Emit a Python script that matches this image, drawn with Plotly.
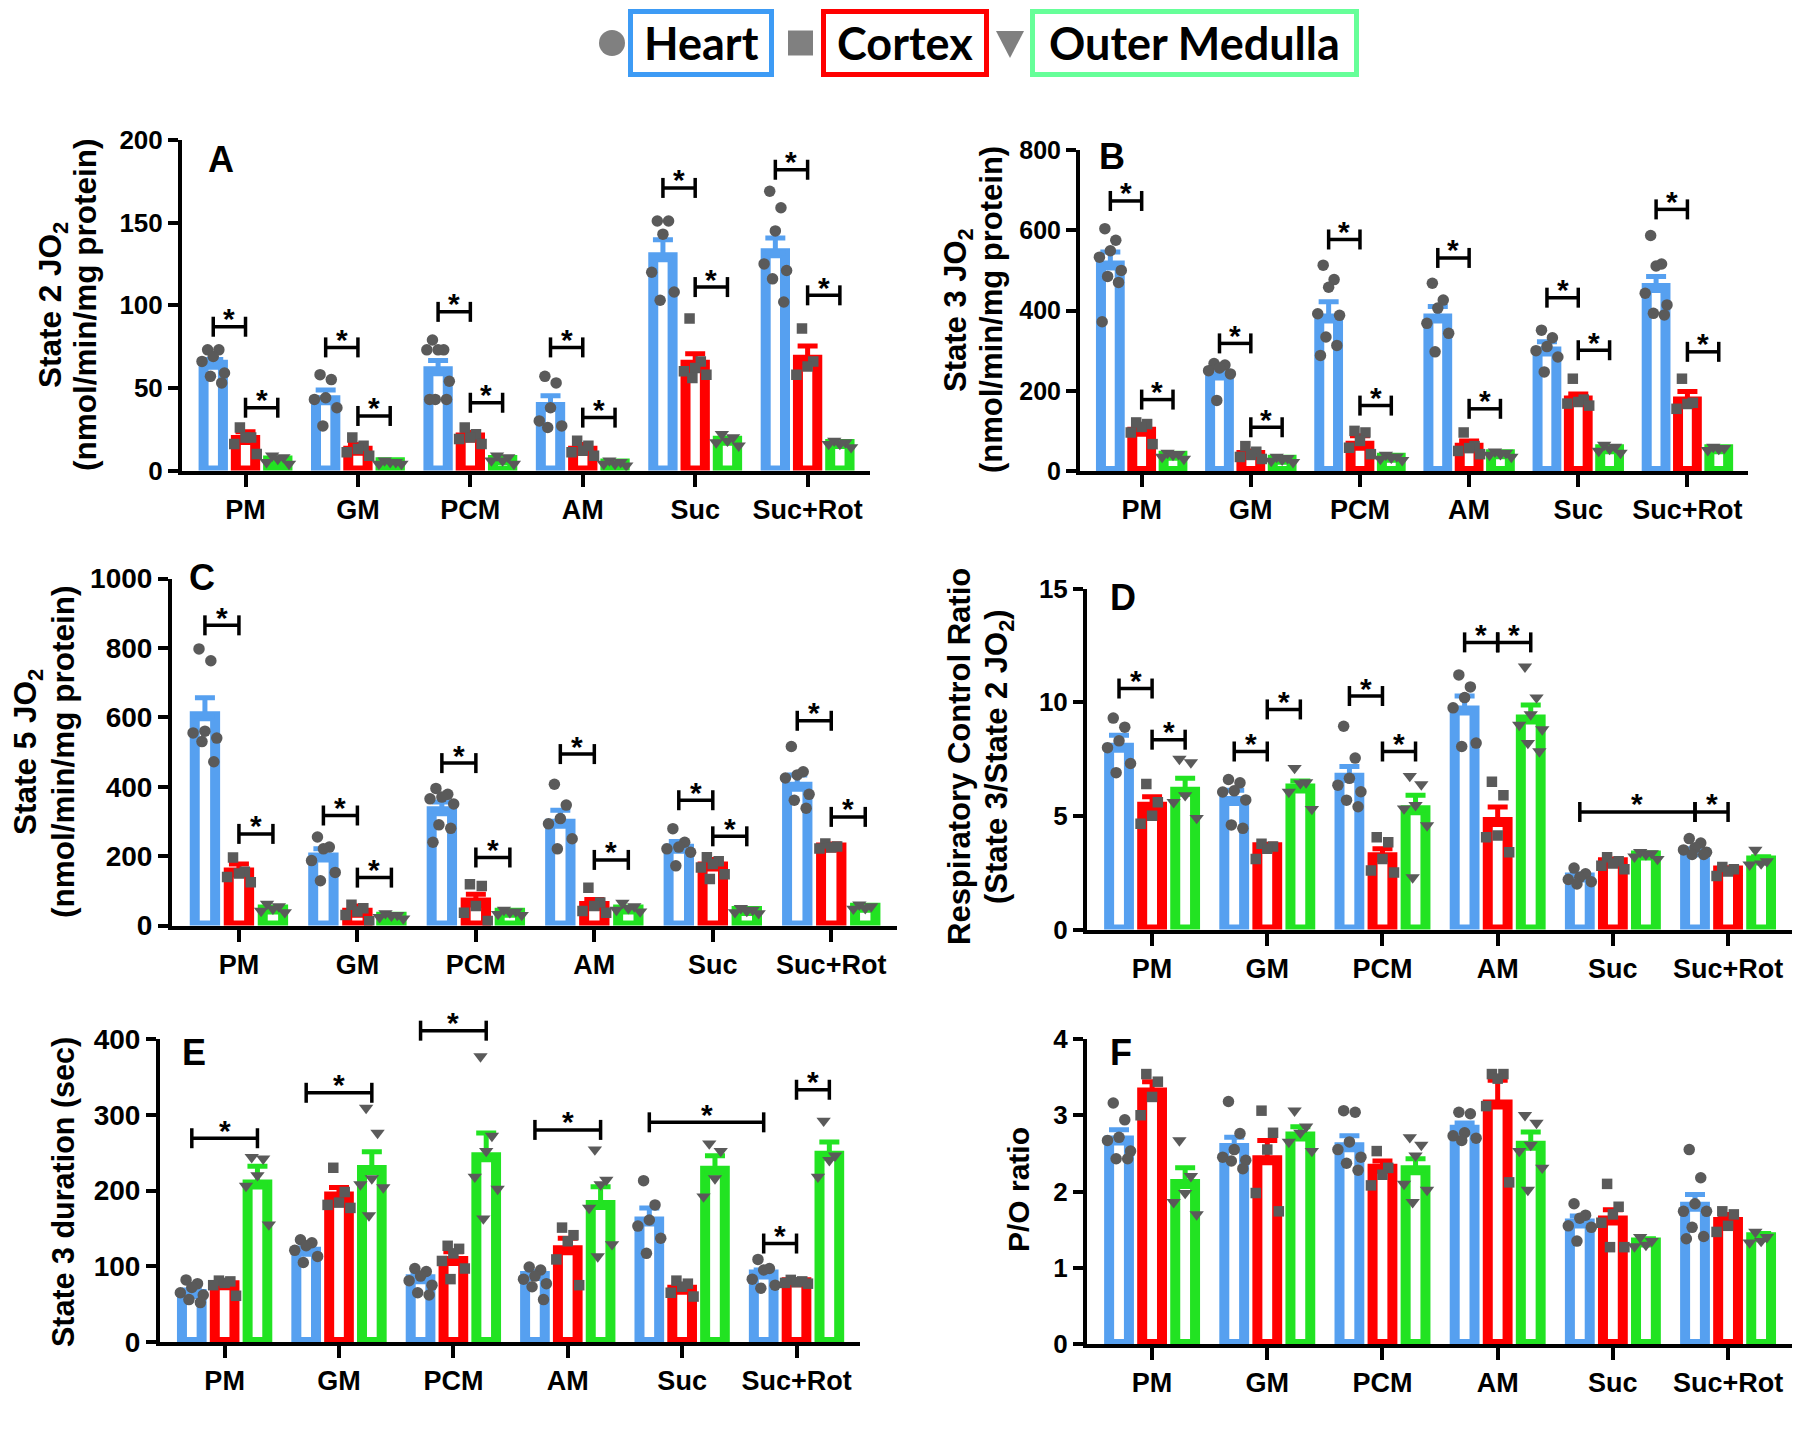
import plotly.graph_objects as go

# full picture size and the default 8px page margin around the figure
PAGE_W, PAGE_H = 1800, 1434
PAD = 8
W, H = PAGE_W - 2 * PAD, PAGE_H - 2 * PAD

categories = ["PM", "GM", "PCM", "AM", "Suc", "Suc+Rot"]
tissues = ["Heart", "Cortex", "Outer Medulla"]

# ---------------- Panel A : State 2 JO2 ----------------
A_heart_mean = [64, 42.5, 60, 38.5, 129, 131.5]
A_heart_sem = [3.2, 6.2, 6.6, 6.8, 10.7, 9.2]
A_cortex_mean = [18.5, 12, 20, 12, 64, 67]
A_cortex_sem = [4.9, 3.8, 3.0, 3.8, 6.7, 8.3]
A_om_mean = [6, 5, 6.3, 4.3, 18, 16]
A_om_sem = [1.0, 0.5, 1.0, 0.5, 1.5, 0.8]
A_heart_pts = [[73, 73, 69, 66, 59, 57, 53], [58, 55, 44, 43, 38, 27],
               [79, 73, 73, 73, 54, 43, 43, 43], [57, 53, 38, 30, 27, 26],
               [151, 151, 143, 120, 108, 103], [169, 159, 145, 125, 121, 116, 102]]
A_cortex_pts = [[26, 20, 20, 16, 10], [20, 15, 13, 11, 9], [26, 22, 20, 19, 16],
                [18, 15, 12, 11, 9], [92, 66, 62, 60, 58, 56], [86, 66, 63, 58]]
A_om_pts = [[9, 8, 7, 5, 4], [6, 5, 5, 4, 4], [9, 8, 6, 6, 4], [6, 5, 4, 4, 3],
            [22, 20, 18, 17, 15], [18, 17, 16, 16, 14]]
# (category, tissue) -> (category, tissue), height
A_brackets = [(0, 0, 0, 1, 87), (0, 1, 0, 2, 38), (1, 0, 1, 1, 74.5), (1, 1, 1, 2, 33),
              (2, 0, 2, 1, 96), (2, 1, 2, 2, 41), (3, 0, 3, 1, 74.5), (3, 1, 3, 2, 32),
              (4, 0, 4, 1, 171), (4, 1, 4, 2, 111), (5, 0, 5, 1, 182), (5, 1, 5, 2, 106)]

# ---------------- Panel B : State 3 JO2 ----------------
B_heart_mean = [512, 238, 380, 380, 298, 456]
B_heart_sem = [34, 19, 42, 30, 24, 29]
B_cortex_mean = [98, 40, 63, 58, 176, 173]
B_cortex_sem = [17, 10, 25, 17, 16, 25]
B_om_mean = [38, 28, 33, 42, 54, 54]
B_om_sem = [4, 3, 3, 3, 5, 3]
B_heart_pts = [[604, 575, 549, 533, 500, 485, 470, 372], [268, 264, 257, 250, 242, 176],
               [513, 477, 458, 392, 388, 334, 313, 288], [468, 426, 406, 368, 343, 297],
               [351, 332, 310, 300, 284, 247], [587, 516, 511, 443, 414, 393, 389]]
B_cortex_pts = [[121, 117, 110, 96, 67], [62, 48, 40, 35, 30], [100, 96, 75, 58, 42],
                [96, 62, 57, 50, 42], [230, 178, 172, 168, 163], [230, 170, 167, 155]]
B_om_pts = [[45, 42, 40, 35, 30], [35, 32, 28, 25, 22], [40, 36, 33, 30, 27],
            [48, 45, 42, 40, 35], [65, 60, 55, 50, 45], [60, 57, 55, 52]]
B_brackets = [(0, 0, 0, 1, 673), (0, 1, 0, 2, 178), (1, 0, 1, 1, 318), (1, 1, 1, 2, 109),
              (2, 0, 2, 1, 577), (2, 1, 2, 2, 163), (3, 0, 3, 1, 531), (3, 1, 3, 2, 155),
              (4, 0, 4, 1, 432), (4, 1, 4, 2, 301), (5, 0, 5, 1, 652), (5, 1, 5, 2, 297)]

# ---------------- Panel C : State 5 JO2 ----------------
C_heart_mean = [603, 196, 329, 293, 221, 400]
C_heart_sem = [53, 25, 27, 39, 21, 34]
C_cortex_mean = [153, 37, 66, 56, 170, 225]
C_cortex_sem = [24, 19, 24, 19, 20, 10]
C_om_mean = [46, 25, 37, 46, 42, 51]
C_om_sem = [5, 3, 3, 4, 3, 3]
C_heart_pts = [[797, 763, 560, 555, 540, 530, 472], [255, 226, 221, 187, 153, 129],
               [395, 378, 370, 365, 350, 290, 280, 240], [407, 347, 308, 293, 250, 221],
               [279, 240, 226, 221, 211, 172], [516, 443, 434, 425, 378, 361, 338]]
C_cortex_pts = [[196, 155, 150, 140, 125], [60, 50, 40, 30, 12], [119, 114, 56, 37, 13],
                [109, 66, 56, 42, 37], [197, 185, 177, 167, 148, 134], [236, 228, 225, 222]]
C_om_pts = [[62, 55, 48, 42, 38], [35, 30, 28, 24, 20], [45, 40, 38, 33, 30],
            [65, 55, 50, 45, 40], [50, 45, 42, 38, 35], [60, 55, 50, 48]]
C_brackets = [(0, 0, 0, 1, 865), (0, 1, 0, 2, 264), (1, 0, 1, 1, 317), (1, 1, 1, 2, 138),
              (2, 0, 2, 1, 468), (2, 1, 2, 2, 196), (3, 0, 3, 1, 494), (3, 1, 3, 2, 189),
              (4, 0, 4, 1, 361), (4, 1, 4, 2, 257), (5, 0, 5, 1, 590), (5, 1, 5, 2, 313)]

# ---------------- Panel D : Respiratory Control Ratio ----------------
D_heart_mean = [8.0, 5.65, 6.68, 9.63, 2.29, 3.4]
D_heart_sem = [0.54, 0.48, 0.49, 0.64, 0.15, 0.15]
D_cortex_mean = [5.4, 3.62, 3.18, 4.73, 2.96, 2.59]
D_cortex_sem = [0.44, 0.13, 0.37, 0.66, 0.14, 0.11]
D_om_mean = [6.06, 6.2, 5.25, 9.24, 3.25, 3.03]
D_om_sem = [0.59, 0.33, 0.65, 0.63, 0.10, 0.17]
D_heart_pts = [[9.3, 8.9, 8.3, 8.0, 7.3, 6.9], [6.6, 6.45, 6.1, 6.05, 5.7, 4.6, 4.45],
               [8.94, 7.54, 6.65, 6.35, 6.06, 5.69, 5.4], [11.2, 10.67, 10.2, 9.75, 8.2, 8.05],
               [2.7, 2.45, 2.3, 2.2, 2.1, 2.0], [4.0, 3.8, 3.6, 3.5, 3.4, 3.3, 3.3]]
D_cortex_pts = [[6.4, 5.6, 5.0, 4.65], [3.77, 3.65, 3.55, 3.1], [4.06, 3.84, 3.1, 2.59, 2.51],
                [6.5, 5.9, 4.14, 4.06, 3.4], [3.18, 3.0, 2.9, 2.8, 2.65], [2.75, 2.65, 2.55, 2.35]]
D_om_pts = [[7.5, 7.35, 5.9, 5.6, 4.9], [7.1, 6.47, 6.43, 6.05, 5.3],
            [6.75, 6.38, 5.47, 5.32, 4.58, 2.29], [11.56, 10.2, 9.46, 9.0, 8.8, 8.2, 7.83],
            [3.4, 3.35, 3.3, 3.2, 3.1], [3.5, 3.0, 2.9, 2.85]]
D_brackets = [(0, 0, 0, 1, 10.6), (0, 1, 0, 2, 8.35), (1, 0, 1, 1, 7.83), (1, 1, 1, 2, 9.68),
              (2, 0, 2, 1, 10.27), (2, 1, 2, 2, 7.83), (3, 0, 3, 1, 12.63), (3, 1, 3, 2, 12.63),
              (4, 0, 5, 0, 5.17), (5, 0, 5, 1, 5.17)]

# ---------------- Panel E : State 3 duration ----------------
E_heart_mean = [63.5, 119, 83, 87, 159, 89]
E_heart_sem = [5, 5, 6, 6, 18, 6]
E_cortex_mean = [75, 192, 107, 121, 69, 79]
E_cortex_sem = [4, 12, 12, 16, 5, 3]
E_om_mean = [208, 227, 244, 181, 226, 246]
E_om_sem = [24, 24, 32, 24, 20, 18]
E_heart_pts = [[82, 77, 72, 65, 62, 56, 52], [135, 131, 127, 121, 113, 105],
               [97, 93, 87, 81, 75, 65, 62], [99, 95, 87, 83, 77, 73, 56],
               [213, 181, 161, 153, 137, 117], [109, 97, 95, 83, 75, 71]]
E_cortex_pts = [[81, 80, 78, 75, 61], [230, 198, 184, 181, 177], [127, 123, 117, 107, 97, 83],
                [151, 141, 133, 109, 75], [81, 77, 73, 65, 60], [82, 80, 79, 78, 77]]
E_om_pts = [[244, 242, 220, 206, 155], [309, 276, 216, 208, 204, 167],
            [377, 272, 252, 218, 202, 163], [254, 214, 208, 177, 129, 113],
            [262, 252, 216, 192], [292, 246, 240, 218]]
E_brackets = [(0, 0, 0, 2, 269), (1, 0, 1, 2, 329), (2, 0, 2, 2, 411), (3, 0, 3, 2, 280),
              (4, 0, 5, 0, 290), (5, 1, 5, 2, 333), (5, 0, 5, 1, 130)]

# ---------------- Panel F : P/O ratio ----------------
F_heart_mean = [2.67, 2.57, 2.58, 2.81, 1.58, 1.8]
F_heart_sem = [0.14, 0.14, 0.15, 0.09, 0.10, 0.16]
F_cortex_mean = [3.3, 2.41, 2.3, 3.14, 1.62, 1.6]
F_cortex_sem = [0.14, 0.26, 0.10, 0.32, 0.14, 0.10]
F_om_mean = [2.1, 2.72, 2.28, 2.6, 1.33, 1.4]
F_om_sem = [0.21, 0.13, 0.15, 0.18, 0.05, 0.05]
F_heart_pts = [[3.16, 2.94, 2.71, 2.67, 2.53, 2.43, 2.43], [3.18, 2.76, 2.55, 2.45, 2.41, 2.4, 2.3],
               [3.06, 3.04, 2.65, 2.55, 2.45, 2.37, 2.28], [3.04, 3.02, 2.77, 2.73, 2.7, 2.67],
               [1.84, 1.69, 1.65, 1.55, 1.53, 1.35], [2.55, 2.18, 1.84, 1.74, 1.74, 1.53, 1.41, 1.38]]
F_cortex_pts = [[3.54, 3.44, 3.24, 3.0], [3.06, 2.77, 2.55, 1.98, 1.74], [2.53, 2.31, 2.22, 2.08],
                [3.54, 3.54, 3.48, 3.12, 2.12], [2.1, 1.8, 1.7, 1.59, 1.27, 1.27], [1.74, 1.7, 1.55, 1.47]]
F_om_pts = [[2.67, 2.2, 1.98, 1.86, 1.7], [3.06, 2.85, 2.77, 2.65, 2.53],
            [2.71, 2.61, 2.47, 2.1, 2.02, 1.86], [3.0, 2.9, 2.61, 2.53, 2.31, 2.02],
            [1.4, 1.35, 1.3, 1.28], [1.47, 1.4, 1.35, 1.33]]
F_brackets = []

# ---------------- styling ----------------
COLORS = ["#56A0F0", "#FF0000", "#22E322"]
BOX_COLORS = ["#3D9BF5", "#FF0000", "#66FF99"]
SYMBOLS = ["circle", "square", "triangle-down"]
MSIZE = [11.5, 10.5, 12.5]
GRAY = "#5a5a5a"
OFFSETS = [-0.287, 0.0, 0.287]
BAR_W = 0.172
BAR_LW = 10
JIT = [-0.5, 0.5, 0.0, -1.0, 1.0, -0.25, 0.75, -0.75]
SPREAD = 0.1
XR = [-0.565, 5.555]
FONT = "Liberation Sans, Arial, sans-serif"

panels = [
    dict(letter="A", box=(182, 870, 140, 470.5), ymax=200, dtick=50, tf=26,
         means=[A_heart_mean, A_cortex_mean, A_om_mean], sems=[A_heart_sem, A_cortex_sem, A_om_sem],
         pts=[A_heart_pts, A_cortex_pts, A_om_pts], br=A_brackets, lpos=(206, 145),
         titles=[("State 2 JO<sub>2</sub>", 52), ("(nmol/min/mg protein)", 85)], ty=305, tsize=31.5),
    dict(letter="B", box=(1080, 1748, 150, 471), ymax=800, dtick=200, tf=25,
         means=[B_heart_mean, B_cortex_mean, B_om_mean], sems=[B_heart_sem, B_cortex_sem, B_om_sem],
         pts=[B_heart_pts, B_cortex_pts, B_om_pts], br=B_brackets, lpos=(1097, 142),
         titles=[("State 3 JO<sub>2</sub>", 958), ("(nmol/min/mg protein)", 991)], ty=310, tsize=31),
    dict(letter="C", box=(172, 897, 578.5, 925.5), ymax=1000, dtick=200, tf=28,
         means=[C_heart_mean, C_cortex_mean, C_om_mean], sems=[C_heart_sem, C_cortex_sem, C_om_sem],
         pts=[C_heart_pts, C_cortex_pts, C_om_pts], br=C_brackets, lpos=(187, 563),
         titles=[("State 5 JO<sub>2</sub>", 27), ("(nmol/min/mg protein)", 63)], ty=752, tsize=31.5),
    dict(letter="D", box=(1087, 1792, 588.5, 929.5), ymax=15, dtick=5, tf=26,
         means=[D_heart_mean, D_cortex_mean, D_om_mean], sems=[D_heart_sem, D_cortex_sem, D_om_sem],
         pts=[D_heart_pts, D_cortex_pts, D_om_pts], br=D_brackets, lpos=(1108, 583),
         titles=[("Respiratory Control Ratio", 960), ("(State 3/State 2 JO<sub>2</sub>)", 999)], ty=757, tsize=31),
    dict(letter="E", box=(160, 860, 1039, 1342), ymax=400, dtick=100, tf=28,
         means=[E_heart_mean, E_cortex_mean, E_om_mean], sems=[E_heart_sem, E_cortex_sem, E_om_sem],
         pts=[E_heart_pts, E_cortex_pts, E_om_pts], br=E_brackets, lpos=(180, 1038),
         titles=[("State 3 duration (sec)", 63)], ty=1192, tsize=30.5),
    dict(letter="F", box=(1087, 1792, 1039, 1344), ymax=4, dtick=1, tf=26,
         means=[F_heart_mean, F_cortex_mean, F_om_mean], sems=[F_heart_sem, F_cortex_sem, F_om_sem],
         pts=[F_heart_pts, F_cortex_pts, F_om_pts], br=F_brackets, lpos=(1108, 1038),
         titles=[("P/O ratio", 1018)], ty=1190, tsize=30),
]


def px2x(px):
    # page pixel -> paper fraction
    return min(1.0, max(0.0, (px - PAD) / W))


def px2y(py):
    return min(1.0, max(0.0, 1 - (py - PAD) / H))


fig = go.Figure()
layout = dict(width=W, height=H, margin=dict(l=0, r=0, t=0, b=0, pad=0, autoexpand=False),
              autosize=False, paper_bgcolor="white", plot_bgcolor="white", showlegend=False,
              barmode="overlay", font=dict(family=FONT, color="black"))
shapes, annotations = [], []

for i, p in enumerate(panels):
    n = "" if i == 0 else str(i + 1)
    xa, ya = "x" + n, "y" + n
    x0, x1, ytop, ybot = p["box"]
    layout["xaxis" + n] = dict(
        domain=[px2x(x0), px2x(x1)], range=XR, anchor=ya, showgrid=False, zeroline=False,
        showline=True, linewidth=4, linecolor="black", ticks="outside", ticklen=12, tickwidth=4,
        tickcolor="black", tickvals=list(range(len(categories))), ticktext=categories,
        tickfont=dict(family=FONT, size=27, color="black", weight="bold"), ticklabelstandoff=0,
        automargin=False)
    layout["yaxis" + n] = dict(
        domain=[px2y(ybot), px2y(ytop)], range=[0, p["ymax"]], anchor=xa, showgrid=False,
        zeroline=False, showline=True, linewidth=4, linecolor="black", ticks="outside",
        ticklen=10, tickwidth=4, tickcolor="black", tick0=0, dtick=p["dtick"],
        tickfont=dict(family=FONT, size=p["tf"], color="black", weight="bold"), automargin=False)

    for s in range(3):
        fig.add_trace(go.Bar(
            x=[k + OFFSETS[s] for k in range(len(categories))], y=p["means"][s], width=BAR_W,
            name=tissues[s], xaxis=xa, yaxis=ya,
            marker=dict(color="white", line=dict(color=COLORS[s], width=BAR_LW)),
            error_y=dict(type="data", array=p["sems"][s], arrayminus=[0] * len(categories),
                         symmetric=False, color=COLORS[s], thickness=5, width=10)))
    for s in range(3):
        xs, ys = [], []
        for k, grp in enumerate(p["pts"][s]):
            for j, v in enumerate(sorted(grp, reverse=True)):
                xs.append(k + OFFSETS[s] + JIT[j % len(JIT)] * SPREAD)
                ys.append(v)
        fig.add_trace(go.Scatter(x=xs, y=ys, mode="markers", xaxis=xa, yaxis=ya, name=tissues[s],
                                 marker=dict(symbol=SYMBOLS[s], size=MSIZE[s], color=GRAY,
                                             line=dict(width=0))))

    # significance brackets
    for (c1, s1, c2, s2, h) in p["br"]:
        xa1 = c1 + OFFSETS[s1]
        xa2 = c2 + OFFSETS[s2]
        fr = h / p["ymax"]
        shapes.append(dict(type="line", xref=xa, yref=ya + " domain", x0=xa1, x1=xa2, y0=fr, y1=fr,
                           line=dict(color="black", width=3.5)))
        for xe in (xa1, xa2):
            shapes.append(dict(type="line", xref=xa, yref=ya + " domain", ysizemode="pixel",
                               yanchor=fr, x0=xe, x1=xe, y0=-10, y1=10,
                               line=dict(color="black", width=3.5)))
        annotations.append(dict(x=(xa1 + xa2) / 2, y=fr, xref=xa, yref=ya + " domain", text="*",
                                showarrow=False, xanchor="center", yanchor="middle", yshift=8,
                                font=dict(family=FONT, size=30, color="black", weight="bold")))

    # panel letter
    lx, ly = p["lpos"]
    annotations.append(dict(x=px2x(lx), y=px2y(ly - 8), xref="paper", yref="paper", text=p["letter"],
                            showarrow=False, xanchor="left", yanchor="top",
                            font=dict(family=FONT, size=36, color="black", weight="bold")))
    # axis titles
    for txt, tx in p["titles"]:
        annotations.append(dict(x=px2x(tx), y=px2y(p["ty"]), xref="paper", yref="paper", text=txt,
                                showarrow=False, textangle=-90, xanchor="center", yanchor="middle",
                                font=dict(family=FONT, size=p["tsize"], color="black", weight="bold")))

# ---------------- header legend (boxed labels) ----------------
leg_boxes = [(628, 774), (821, 989), (1030, 1359)]
leg_top, leg_bot = 9, 77
for s in range(3):
    bx0, bx1 = leg_boxes[s]
    shapes.append(dict(type="rect", xref="paper", yref="paper",
                       x0=px2x(bx0 + 2.5), x1=px2x(bx1 - 2.5), y0=px2y(leg_bot - 2.5), y1=px2y(leg_top + 2.5),
                       line=dict(color=BOX_COLORS[s], width=5), fillcolor="rgba(0,0,0,0)"))
    annotations.append(dict(x=px2x((bx0 + bx1) / 2), y=px2y((leg_top + leg_bot) / 2),
                            xref="paper", yref="paper", text=tissues[s], showarrow=False,
                            xanchor="center", yanchor="middle",
                            font=dict(family="Lato, Open Sans, sans-serif", size=45, color="black",
                                      weight="bold")))
LEG_GRAY = "#808080"
cy = 43
shapes.append(dict(type="circle", xref="paper", yref="paper", x0=px2x(599), x1=px2x(625),
                   y0=px2y(cy + 13), y1=px2y(cy - 13), fillcolor=LEG_GRAY, line=dict(width=0)))
shapes.append(dict(type="rect", xref="paper", yref="paper", x0=px2x(788), x1=px2x(813),
                   y0=px2y(cy + 12.5), y1=px2y(cy - 12.5), fillcolor=LEG_GRAY, line=dict(width=0)))
tri = "M {:.5f} {:.5f} L {:.5f} {:.5f} L {:.5f} {:.5f} Z".format(
    px2x(996), px2y(31), px2x(1024), px2y(31), px2x(1010), px2y(58))
shapes.append(dict(type="path", xref="paper", yref="paper", path=tri, fillcolor=LEG_GRAY,
                   line=dict(width=0)))

layout["shapes"] = shapes
layout["annotations"] = annotations
fig.update_layout(**layout)

fig.write_html("out.html", config={"displayModeBar": False})
